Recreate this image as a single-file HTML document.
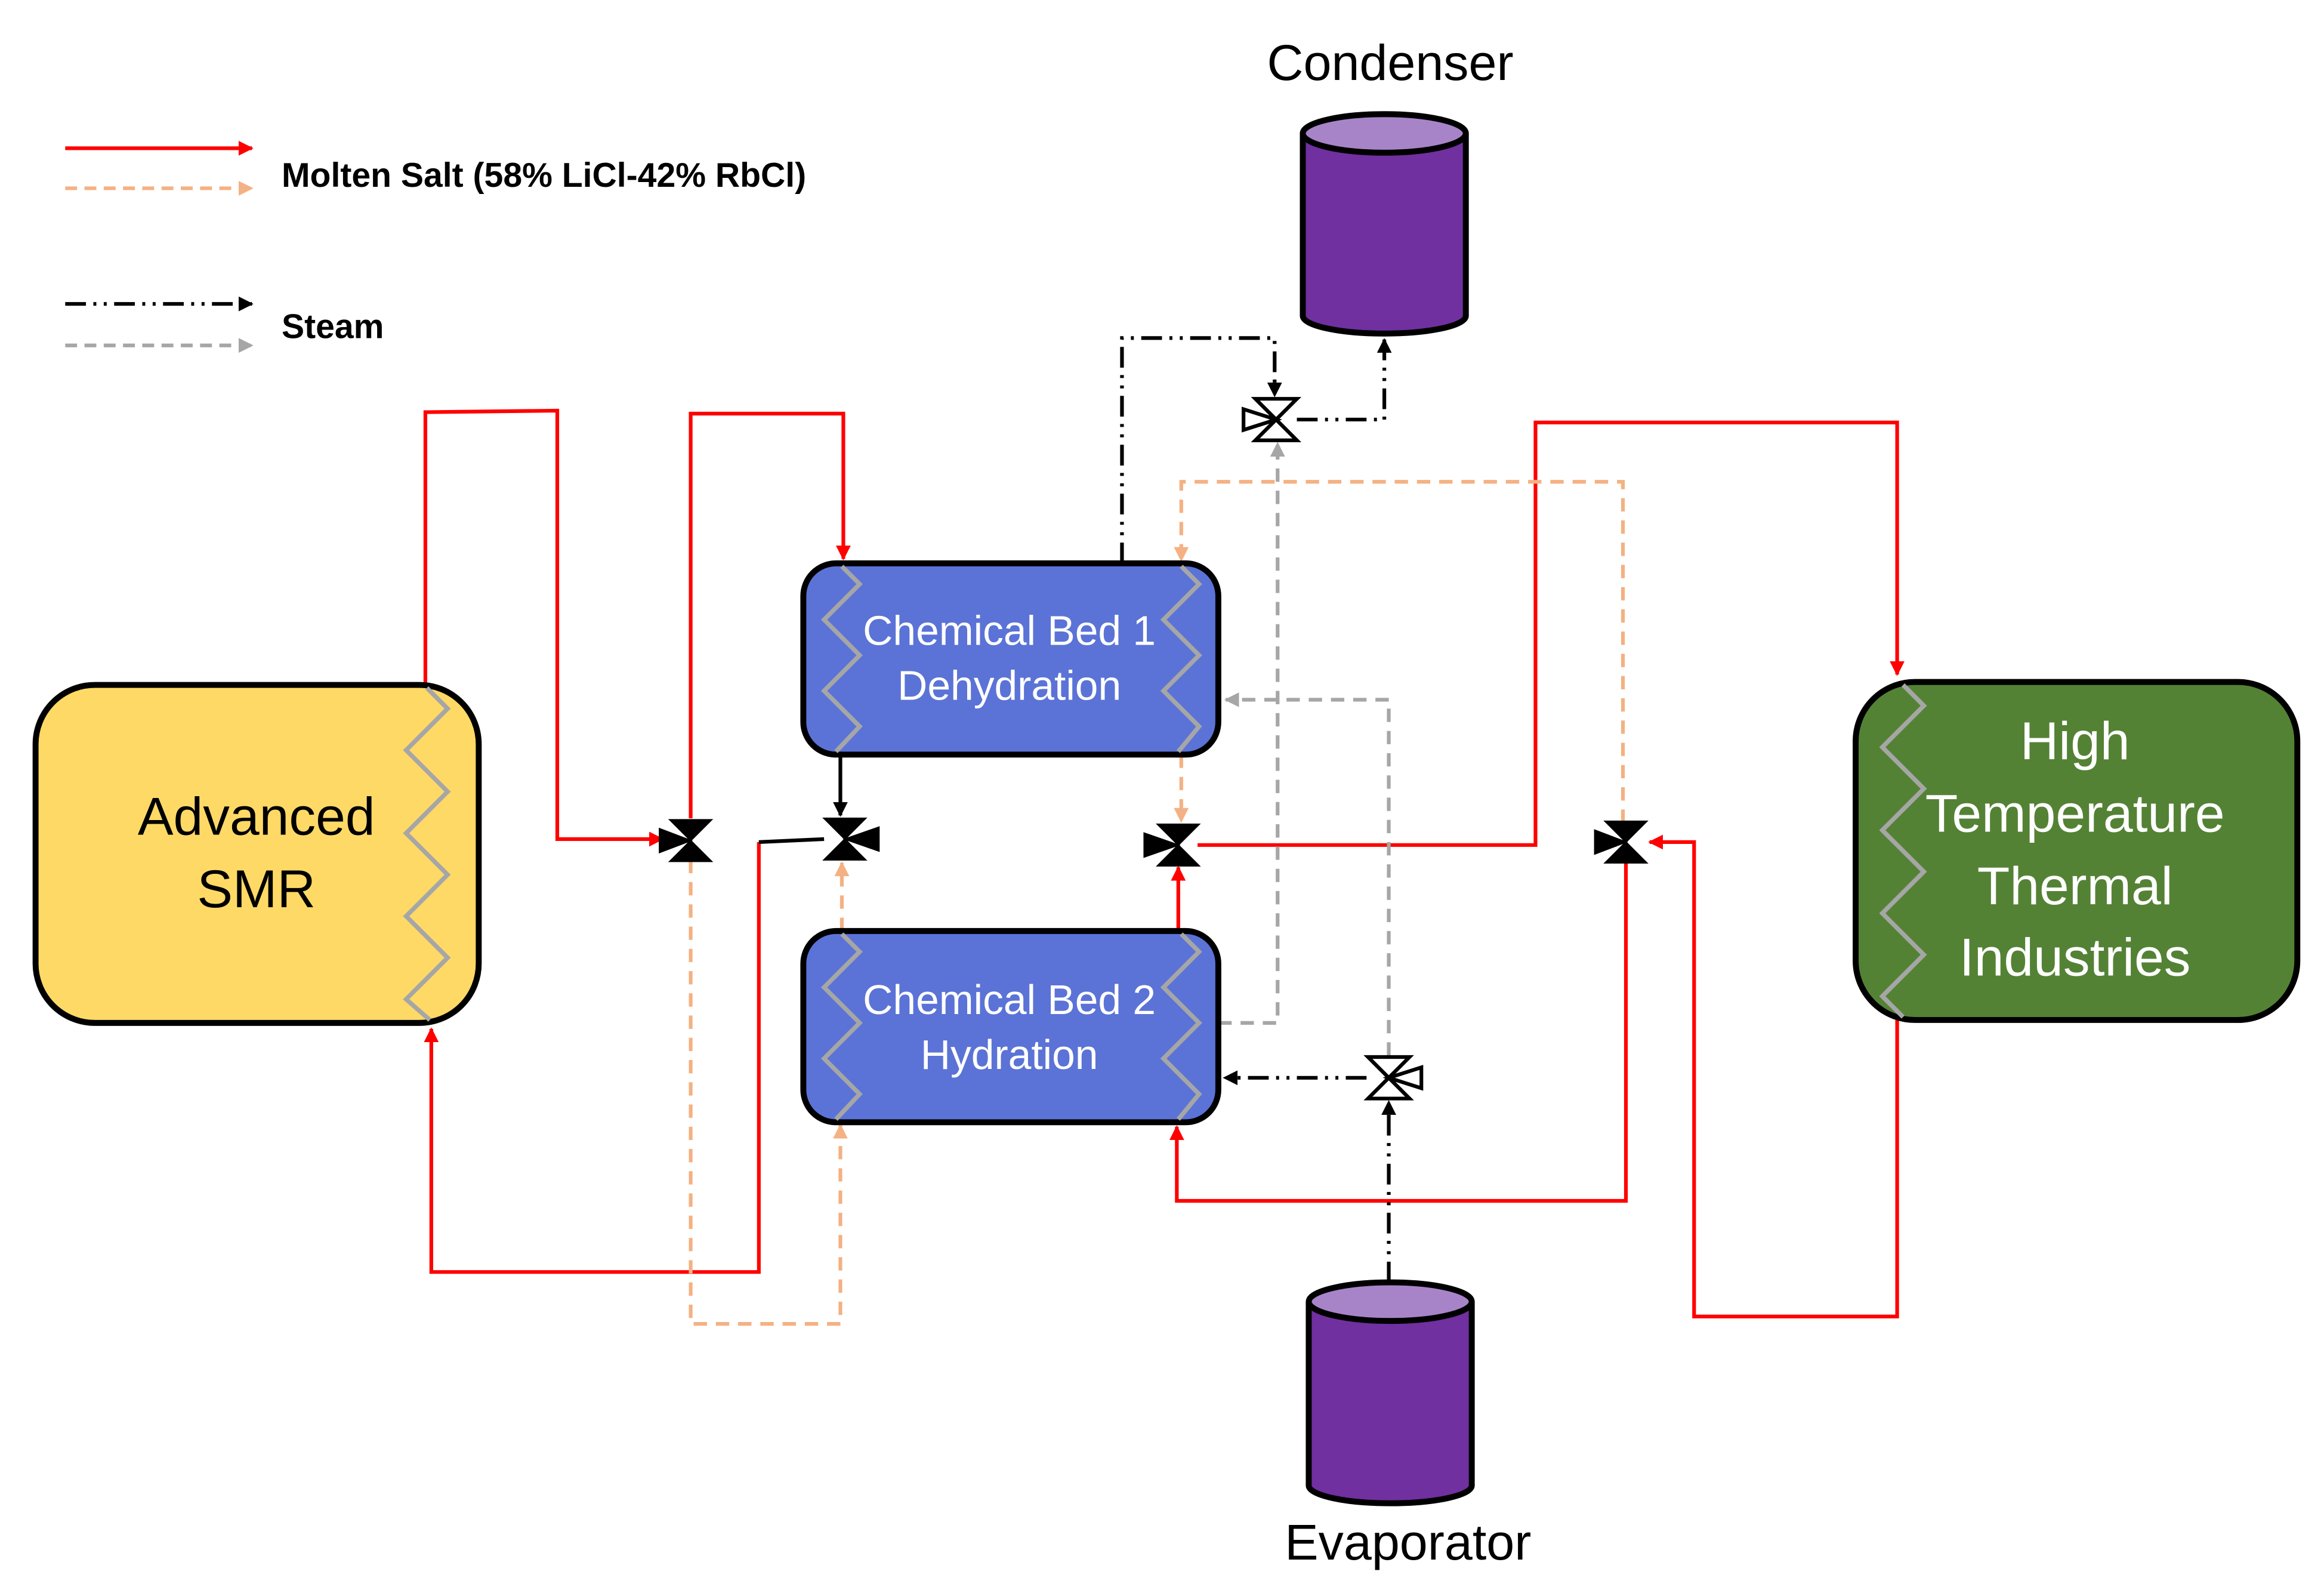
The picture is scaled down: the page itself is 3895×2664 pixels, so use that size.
<!DOCTYPE html>
<html><head><meta charset="utf-8"><style>html,body{margin:0;padding:0;background:#fff}svg{display:block}</style></head>
<body>
<svg width="3895" height="2664" viewBox="0 0 1568 1072.5" preserveAspectRatio="none" xmlns="http://www.w3.org/2000/svg" font-family="Liberation Sans, sans-serif">
<defs>
<marker id="ar" markerWidth="10" markerHeight="10" refX="9" refY="5" orient="auto" markerUnits="userSpaceOnUse"><path d="M0,0 L10,5 L0,10z" fill="#f00"/></marker>
<marker id="ao" markerWidth="10" markerHeight="10" refX="9" refY="5" orient="auto" markerUnits="userSpaceOnUse"><path d="M0,0 L10,5 L0,10z" fill="#F4B183"/></marker>
<marker id="ak" markerWidth="10" markerHeight="10" refX="9" refY="5" orient="auto" markerUnits="userSpaceOnUse"><path d="M0,0 L10,5 L0,10z" fill="#000"/></marker>
<marker id="ag" markerWidth="10" markerHeight="10" refX="9" refY="5" orient="auto" markerUnits="userSpaceOnUse"><path d="M0,0 L10,5 L0,10z" fill="#A6A6A6"/></marker>
</defs>
<!-- legend -->
<line x1="44" y1="100" x2="170" y2="100" stroke="#f00" stroke-width="2.5" marker-end="url(#ar)"/>
<line x1="44" y1="127" x2="170" y2="127" stroke="#F4B183" stroke-width="2.5" stroke-dasharray="8,5" marker-end="url(#ao)"/>
<text x="190" y="126" font-size="23" font-weight="bold">Molten Salt (58% LiCl-42% RbCl)</text>
<line x1="44" y1="205" x2="170" y2="205" stroke="#000" stroke-width="2.5" stroke-dasharray="14,5,2,5,2,5" marker-end="url(#ak)"/>
<line x1="44" y1="233" x2="170" y2="233" stroke="#A6A6A6" stroke-width="2.5" stroke-dasharray="8,5" marker-end="url(#ag)"/>
<text x="190" y="228" font-size="23" font-weight="bold">Steam</text>

<!-- red lines -->
<g fill="none" stroke="#f00" stroke-width="2.5">
<polyline points="287,462 287,278 376,277 376,566 447,566" marker-end="url(#ar)"/>
<polyline points="466,552 466,279 569,279 569,377" marker-end="url(#ar)"/>
<polyline points="512,568 512,858 291,858 291,694" marker-end="url(#ar)"/>
<polyline points="795,628 795,585" marker-end="url(#ar)"/>
<polyline points="808,570 1036,570 1036,285 1280,285 1280,455" marker-end="url(#ar)"/>
<polyline points="1280,688 1280,888 1143,888 1143,568 1113,568" marker-end="url(#ar)"/>
<polyline points="1097,582 1097,810 794,810 794,760" marker-end="url(#ar)"/>
</g>
<line x1="512" y1="568" x2="556" y2="566" stroke="#000" stroke-width="2.5"/>
<!-- orange -->
<g fill="none" stroke="#F4B183" stroke-width="2.5" stroke-dasharray="9,6">
<polyline points="466,580 466,893 567,893 567,759" marker-end="url(#ao)"/>
<polyline points="568,628 568,582" marker-end="url(#ao)"/>
<polyline points="797,509 797,554" marker-end="url(#ao)"/>
<polyline points="1095,555 1095,325 797,325 797,378" marker-end="url(#ao)"/>
</g>
<!-- black steam -->
<line x1="567" y1="509" x2="567" y2="550" stroke="#000" stroke-width="2.5" marker-end="url(#ak)"/>
<g fill="none" stroke="#000" stroke-width="2.5" stroke-dasharray="14,5,2,5,2,5">
<polyline points="757,380 757,228 860,228 860,267" marker-end="url(#ak)"/>
<polyline points="875,283 934,283 934,229" marker-end="url(#ak)"/>
<polyline points="937,865 937,743" marker-end="url(#ak)"/>
<polyline points="922,727 826,727" marker-end="url(#ak)"/>
</g>
<!-- gray steam -->
<g fill="none" stroke="#A6A6A6" stroke-width="2.5" stroke-dasharray="9,6">
<polyline points="822,690 862,690 862,299" marker-end="url(#ag)"/>
<polyline points="937,712 937,472 827,472" marker-end="url(#ag)"/>
</g>

<!-- SMR -->
<rect x="24" y="462" width="299" height="228" rx="40" fill="#FFD966" stroke="#000" stroke-width="4"/>
<polyline points="288,464 302,478 274,506 302,534 274,562 302,590 274,618 302,646 274,674 290,688" fill="none" stroke="#A6A6A6" stroke-width="3"/>
<text x="173" y="563" font-size="36" text-anchor="middle">Advanced</text>
<text x="173" y="612" font-size="36" text-anchor="middle">SMR</text>
<!-- Bed1 -->
<rect x="542" y="380" width="280" height="129" rx="22" fill="#5B73D6" stroke="#000" stroke-width="4"/>
<polyline points="568,382 580,394 556,418 580,442 556,466 580,490 564,507" fill="none" stroke="#A6A6A6" stroke-width="3"/>
<polyline points="797,382 809,394 785,418 809,442 785,466 809,490 795,507" fill="none" stroke="#A6A6A6" stroke-width="3"/>
<text x="681" y="435" font-size="28" fill="#fff" text-anchor="middle">Chemical Bed 1</text>
<text x="681" y="472" font-size="28" fill="#fff" text-anchor="middle">Dehydration</text>
<!-- Bed2 -->
<rect x="542" y="628" width="280" height="129" rx="22" fill="#5B73D6" stroke="#000" stroke-width="4"/>
<polyline points="568,630 580,642 556,666 580,690 556,714 580,738 564,755" fill="none" stroke="#A6A6A6" stroke-width="3"/>
<polyline points="797,630 809,642 785,666 809,690 785,714 809,738 795,755" fill="none" stroke="#A6A6A6" stroke-width="3"/>
<text x="681" y="684" font-size="28" fill="#fff" text-anchor="middle">Chemical Bed 2</text>
<text x="681" y="721" font-size="28" fill="#fff" text-anchor="middle">Hydration</text>
<!-- HTTI -->
<rect x="1252" y="460" width="298" height="228" rx="40" fill="#548235" stroke="#000" stroke-width="4"/>
<polyline points="1284,462 1298,476 1270,504 1298,532 1270,560 1298,588 1270,616 1298,644 1270,672 1284,686" fill="none" stroke="#A6A6A6" stroke-width="3"/>
<text x="1400" y="512" font-size="36" fill="#fff" text-anchor="middle">High</text>
<text x="1400" y="561" font-size="36" fill="#fff" text-anchor="middle">Temperature</text>
<text x="1400" y="610" font-size="36" fill="#fff" text-anchor="middle">Thermal</text>
<text x="1400" y="658" font-size="36" fill="#fff" text-anchor="middle">Industries</text>

<!-- Condenser -->
<path d="M879,90 L879,213 A55,12 0 0 0 989,213 L989,90" fill="#7030A0" stroke="#000" stroke-width="4"/>
<ellipse cx="934" cy="90" rx="55" ry="13" fill="#A784C8" stroke="#000" stroke-width="4"/>
<text x="938" y="54" font-size="34" text-anchor="middle">Condenser</text>
<!-- Evaporator -->
<path d="M883,878 L883,1002 A55,12 0 0 0 993,1002 L993,878" fill="#7030A0" stroke="#000" stroke-width="4"/>
<ellipse cx="938" cy="878" rx="55" ry="13" fill="#A784C8" stroke="#000" stroke-width="4"/>
<text x="950" y="1052" font-size="34" text-anchor="middle">Evaporator</text>

<!-- closed valves -->
<g fill="#000" stroke="#000" stroke-width="1">
<path d="M452,553 L480,553 L466,567 Z M452,581 L480,581 L466,567 Z M445,559 L445,575 L466,567 Z"/>
<path d="M556,552 L584,552 L570,566 Z M556,580 L584,580 L570,566 Z M593,558 L593,574 L570,566 Z"/>
<path d="M781,556 L809,556 L795,570 Z M781,584 L809,584 L795,570 Z M772,562 L772,578 L795,570 Z"/>
<path d="M1083,554 L1111,554 L1097,568 Z M1083,582 L1111,582 L1097,568 Z M1076,560 L1076,576 L1097,568 Z"/>
</g>
<!-- open valves -->
<g fill="#fff" stroke="#000" stroke-width="2.5">
<path d="M847,269 L875,269 L861,283 Z M847,297 L875,297 L861,283 Z M839,276 L839,290 L861,283 Z"/>
<path d="M923,713 L951,713 L937,727 Z M923,741 L951,741 L937,727 Z M959,720 L959,734 L937,727 Z"/>
</g>
</svg>
</body></html>
